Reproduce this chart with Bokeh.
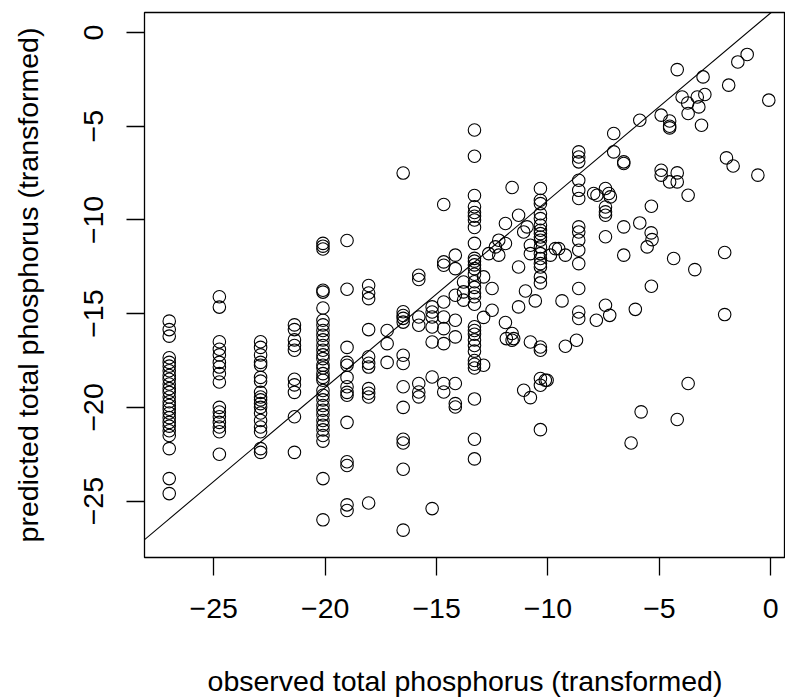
from bokeh.plotting import figure
from bokeh.models import Range1d, FixedTicker, Slope, ColumnDataSource
from bokeh.embed import file_html
from bokeh.resources import INLINE

# observed levels (discrete columns) and the predicted values at each level
level_obs = [-27.0, -24.75, -22.9, -21.38, -20.1, -19.02, -18.05, -17.22, -16.5,
             -15.8, -15.2, -14.68, -14.16, -13.79, -13.3, -10.34, -8.62]
level_pred = [
    [-15.4, -15.85, -16.2, -17.35, -17.6, -17.8, -18.05, -18.3, -18.5, -18.75, -19.0, -19.2,
     -19.45, -19.7, -19.9, -20.1, -20.3, -20.55, -20.8, -21.0, -21.25, -21.5, -22.2, -23.8, -24.6],
    [-14.1, -14.65, -16.5, -16.9, -17.2, -17.6, -17.85, -18.2, -18.65, -20.0, -20.25, -20.5,
     -20.8, -21.05, -21.3, -22.5],
    [-16.5, -16.8, -17.2, -17.6, -17.75, -18.4, -18.6, -19.2, -19.45, -19.6, -19.8, -20.0,
     -20.3, -20.7, -21.05, -21.3, -22.2, -22.4],
    [-15.6, -15.85, -16.4, -16.7, -16.95, -18.5, -18.8, -19.2, -20.5, -22.4],
    [-11.25, -11.4, -11.55, -13.75, -13.85, -14.7, -15.35, -15.6, -15.9, -16.15, -16.4, -16.7,
     -16.95, -17.2, -17.4, -17.75, -17.9, -18.2, -18.4, -18.55, -19.1, -19.35, -19.6, -19.9,
     -20.15, -20.4, -20.7, -20.95, -21.2, -21.5, -21.8, -23.8, -26.0],
    [-11.1, -13.7, -16.8, -17.6, -17.75, -18.4, -18.9, -19.2, -19.35, -20.8, -22.9, -23.1,
     -25.2, -25.5],
    [-13.5, -13.9, -14.2, -15.85, -17.3, -17.65, -17.85, -19.0, -19.25, -19.45, -25.1],
    [-15.9, -16.6, -17.6],
    [-7.5, -14.9, -15.1, -15.25, -15.45, -17.22, -17.66, -18.9, -20.0, -21.7, -21.9, -23.3, -26.55],
    [-12.95, -13.18, -15.18, -15.62, -18.73, -19.18, -19.44],
    [-14.64, -14.91, -15.18, -15.71, -16.51, -18.38, -25.4],
    [-9.18, -12.24, -12.42, -14.38, -15.18, -15.8, -16.6, -18.73, -19.18],
    [-11.88, -12.6, -14.02, -15.35, -16.24, -18.73, -19.8, -19.98],
    [-13.31, -13.84, -14.28],
    [-5.2, -6.6, -8.7, -9.3, -9.6, -9.8, -10.0, -10.4, -11.25, -12.05, -12.2, -12.4, -12.6,
     -12.9, -13.3, -13.6, -13.9, -14.1, -14.5, -15.7, -15.9, -16.1, -16.4, -16.7, -17.0,
     -17.5, -17.7, -17.9, -19.55, -21.7, -22.75],
    [-8.32, -8.95, -9.13, -9.67, -9.93, -10.28, -10.55, -10.73, -10.91, -11.08, -11.44, -11.8,
     -12.06, -12.33, -12.51, -13.04, -13.36, -16.78, -16.95, -18.46, -18.82, -21.19],
    [-6.37, -6.64, -6.9, -7.88, -8.42, -8.86, -10.37, -10.64, -11.08, -11.62, -12.33, -13.66,
     -14.91, -15.26],
]

# remaining individual points
other_obs = [-12.89, -12.89, -12.89, -12.51, -12.51, -12.66, -12.21, -12.21, -12.36, -11.91,
             -11.91, -11.91, -11.61, -11.32, -10.94, -11.09, -11.32, -10.79, -10.79, -9.89,
             -9.67, -9.52, -9.22, -11.01, -10.57, -11.32, -9.37, -11.87, -11.61, -11.54,
             -11.61, -10.79, -9.22, -8.72, -10.12, -10.04, -11.09, -10.79,
             -7.95, -7.8, -7.42, -7.27, -7.2, -7.42, -7.42, -7.42, -7.42, -6.6, -6.6, -7.05,
             -7.05, -6.6, -6.6, -7.42, -7.23, -7.83,
             -4.2, -3.04, -1.48, -1.06, -1.89, -0.09, -3.98, -3.73, -3.3, -2.96, -3.23, -3.71,
             -3.11, -5.88, -4.92, -4.54, -4.54, -4.54,
             -1.99, -1.69, -0.58, -4.92, -4.92, -4.54, -4.2, -4.2, -3.71, -5.36,
             -5.88, -5.37, -5.33, -5.55, -4.36, -3.41, -2.07, -5.36, -6.08, -2.07, -3.71,
             -5.82, -4.2, -6.27]
other_pred = [-13.04, -15.2, -17.75, -13.66, -14.82, -11.8, -11.88, -11.08, -11.44, -11.26,
              -10.19, -15.47, -8.27, -9.75, -10.37, -10.64, -12.51, -11.35, -11.8, -11.88,
              -11.53, -11.53, -11.88, -13.79, -14.32, -14.64, -14.32, -16.33, -16.06, -16.33,
              -16.42, -16.51, -16.74, -16.42, -18.55, -18.55, -19.09, -19.48,
              -8.59, -8.68, -8.32, -8.59, -8.77, -9.31, -9.57, -9.75, -10.9, -10.37, -11.88,
              -5.39, -6.37, -6.9, -6.99, -14.55, -15.09, -15.35,
              -1.98, -2.37, -1.57, -1.17, -2.81, -3.61, -3.44, -3.76, -3.44, -3.31, -3.97,
              -4.32, -4.95, -4.68, -4.41, -4.72, -5.0, -5.09,
              -6.69, -7.12, -7.61, -7.35, -7.61, -7.97, -7.49, -7.97, -8.68, -9.27,
              -10.16, -10.69, -11.05, -11.44, -12.06, -12.65, -11.74, -13.54, -14.77, -15.05,
              -18.73, -20.24, -20.65, -21.9]

ref_slope = 1.0
ref_intercept = 1.05

x_ticks = [-25, -20, -15, -10, -5, 0]
y_ticks = [-25, -20, -15, -10, -5, 0]
tick_text = {t: ("\u2212" + str(abs(t)) if t < 0 else str(t)) for t in x_ticks}

obs = []
pred = []
for xv, ys in zip(level_obs, level_pred):
    for yv in ys:
        obs.append(xv)
        pred.append(yv)
obs += other_obs
pred += other_pred

src = ColumnDataSource(dict(obs=obs, pred=pred))

FONT = "Liberation Sans"
FS = "28.5px"

p = figure(width=785, height=699, output_backend="svg", toolbar_location=None,
           x_range=Range1d(-28.11, 0.66), y_range=Range1d(-28.01, 1.067),
           min_border_left=144, min_border_right=0, min_border_top=12, min_border_bottom=142,
           x_axis_label="observed total phosphorus (transformed)",
           y_axis_label="predicted total phosphorus (transformed)")
p.background_fill_color = "white"
p.border_fill_color = "white"
p.grid.visible = False
p.outline_line_color = "black"
p.outline_line_width = 1.3

p.scatter("obs", "pred", source=src, marker="circle", size=12.5,
          fill_color=None, line_color="black", line_width=1.1)

p.add_layout(Slope(gradient=ref_slope, y_intercept=ref_intercept,
                   line_color="black", line_width=1.1))

for ax, ticks in ((p.xaxis[0], x_ticks), (p.yaxis[0], y_ticks)):
    ax.ticker = FixedTicker(ticks=ticks)
    ax.major_label_overrides = dict(tick_text)
    ax.axis_line_color = None
    ax.major_tick_line_color = "black"
    ax.major_tick_line_width = 1.3
    ax.major_tick_out = 18
    ax.major_tick_in = 0
    ax.minor_tick_line_color = None
    ax.major_label_text_font = FONT
    ax.major_label_text_font_size = FS
    ax.major_label_text_color = "black"
    ax.major_label_text_line_height = 1.0
    ax.axis_label_text_font = FONT
    ax.axis_label_text_font_size = FS
    ax.axis_label_text_font_style = "normal"
    ax.axis_label_text_color = "black"
    ax.axis_label_text_line_height = 1.0

p.xaxis[0].major_label_standoff = 23
p.xaxis[0].axis_label_standoff = 44
p.yaxis[0].major_label_orientation = "vertical"
p.yaxis[0].major_label_standoff = 23
p.yaxis[0].axis_label_standoff = 38

open("out.html", "w").write(file_html(p, INLINE))
